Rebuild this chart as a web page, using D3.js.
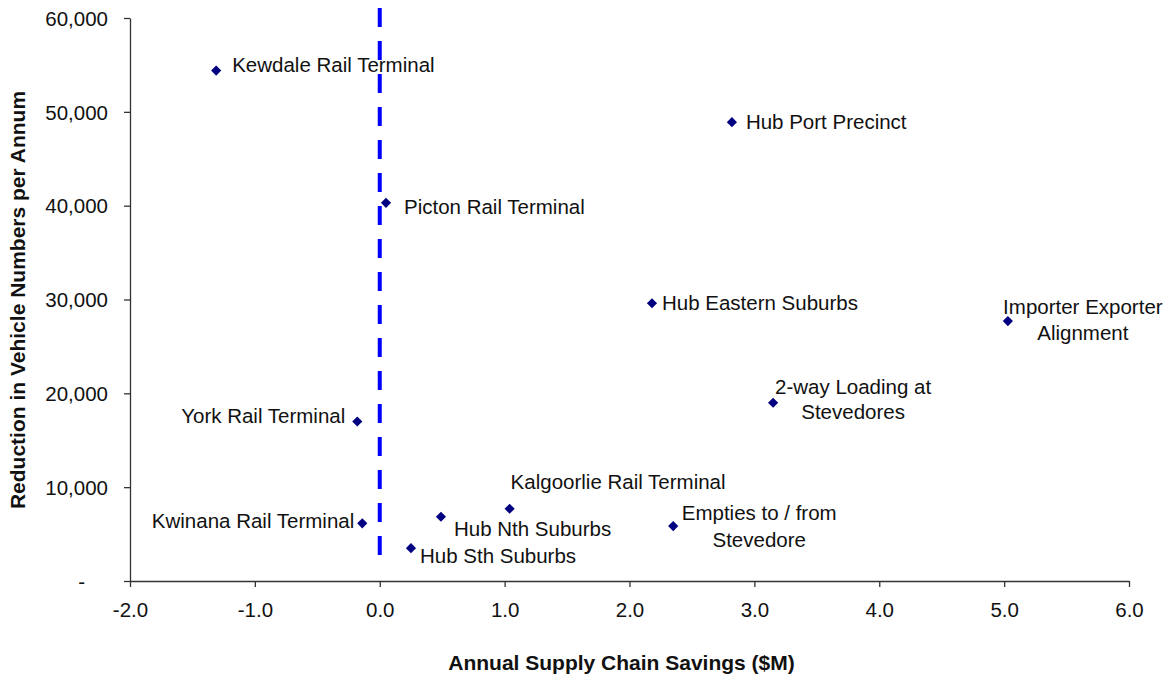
<!DOCTYPE html>
<html>
<head>
<meta charset="utf-8">
<script src="https://cdn.jsdelivr.net/npm/d3@7"></script>
<style>
  html, body { margin: 0; padding: 0; background: #fff; }
  svg { display: block; font-family: Arial, "Liberation Sans", sans-serif; }
</style>
</head>
<body>
<svg id="chart" width="1165" height="677"></svg>
<script>
// Options: supply-chain savings vs. reduction in truck movements
const optionNames = [
  ["Kewdale Rail Terminal"],
  ["Picton Rail Terminal"],
  ["Hub Port Precinct"],
  ["Hub Eastern Suburbs"],
  ["Importer Exporter", "Alignment"],
  ["2-way Loading at", "Stevedores"],
  ["York Rail Terminal"],
  ["Kwinana Rail Terminal"],
  ["Hub Sth Suburbs"],
  ["Hub Nth Suburbs"],
  ["Kalgoorlie Rail Terminal"],
  ["Empties to / from", "Stevedore"]
];
const savingsM = [-1.31, 0.05, 2.82, 2.18, 5.03, 3.15, -0.18, -0.14, 0.25, 0.49, 1.04, 2.35];
const vehicleReduction = [54400, 40300, 48900, 29600, 27700, 19000, 17000, 6150, 3500, 6850, 7700, 5850];

const xTicks = [-2, -1, 0, 1, 2, 3, 4, 5, 6];
const yTicks = [0, 10000, 20000, 30000, 40000, 50000, 60000];

// Label placement relative to each marker: [dx, anchor, [dy per line]]
const labelPlacement = [
  [16, "start", [-6]],
  [18, "start", [4]],
  [14, "start", [0]],
  [10, "start", [0]],
  [75, "middle", [-14, 12]],
  [80, "middle", [-16, 9]],
  [-12, "end", [-6]],
  [-8, "end", [-2]],
  [9, "start", [8]],
  [13, "start", [12]],
  [1, "start", [-27]],
  [86, "middle", [-13, 14]]
];

const svg = d3.select("#chart");
const x = d3.scaleLinear().domain([-2, 6]).range([130, 1129]);
const y = d3.scaleLinear().domain([0, 60000]).range([581, 18]);

const fmtY = v => v === 0 ? "-" : d3.format(",")(v);
const fmtX = v => (v < 0 ? "-" : "") + Math.abs(v).toFixed(1);

// Y axis
const yAxis = svg.append("g")
  .attr("transform", `translate(${x.range()[0]},0)`)
  .call(d3.axisLeft(y).tickValues(yTicks).tickSize(6).tickSizeOuter(0).tickFormat(fmtY));
yAxis.select(".domain").attr("stroke", "#333").attr("stroke-width", 1.3);
yAxis.selectAll(".tick line").attr("stroke", "#333").attr("stroke-width", 1.3);
yAxis.selectAll(".tick text")
  .attr("font-size", 20.5).attr("fill", "#111").attr("font-family", null)
  .attr("x", function(d) { return d === 0 ? -45 : -22; })
  .attr("dy", "0.35em");

// X axis
const xAxis = svg.append("g")
  .attr("transform", `translate(0,${y.range()[0]})`)
  .call(d3.axisBottom(x).tickValues(xTicks).tickSize(6).tickSizeOuter(0).tickFormat(fmtX));
xAxis.select(".domain").attr("stroke", "#333").attr("stroke-width", 1.3);
xAxis.selectAll(".tick line").attr("stroke", "#333").attr("stroke-width", 1.3);
xAxis.selectAll(".tick text")
  .attr("font-size", 20.5).attr("fill", "#111").attr("font-family", null)
  .attr("y", 29).attr("dy", "0.35em");

// Axis titles
svg.append("text")
  .attr("x", 621.5).attr("y", 663).attr("dy", "0.35em")
  .attr("text-anchor", "middle").attr("font-size", 21).attr("font-weight", "bold").attr("fill", "#111")
  .text("Annual Supply Chain Savings ($M)");
svg.append("text")
  .attr("transform", "translate(18,300) rotate(-90)")
  .attr("dy", "0.35em")
  .attr("text-anchor", "middle").attr("font-size", 21).attr("font-weight", "bold").attr("fill", "#111")
  .text("Reduction in Vehicle Numbers per Annum");

// Break-even reference line at zero savings
svg.append("line")
  .attr("x1", x(0)).attr("x2", x(0))
  .attr("y1", 8).attr("y2", 563)
  .attr("stroke", "#0000ff").attr("stroke-width", 4)
  .attr("stroke-dasharray", "19,14");

const data = optionNames.map((name, i) => ({
  name, sx: savingsM[i], vy: vehicleReduction[i], place: labelPlacement[i]
}));

// Diamond markers
svg.append("g").selectAll("path")
  .data(data)
  .join("path")
  .attr("d", d3.symbol(d3.symbolDiamond2, 66))
  .attr("transform", d => `translate(${x(d.sx)},${y(d.vy)})`)
  .attr("fill", "#000080");

// Point labels
const labels = svg.append("g").selectAll("text")
  .data(data)
  .join("text")
  .attr("font-size", 20.5).attr("fill", "#111")
  .attr("text-anchor", d => d.place[1]);
labels.each(function(d) {
  const t = d3.select(this);
  d.name.forEach((line, k) => {
    t.append("tspan")
      .attr("x", x(d.sx) + d.place[0])
      .attr("y", y(d.vy) + d.place[2][k])
      .attr("dy", "0.35em")
      .text(line);
  });
});
</script>
</body>
</html>
